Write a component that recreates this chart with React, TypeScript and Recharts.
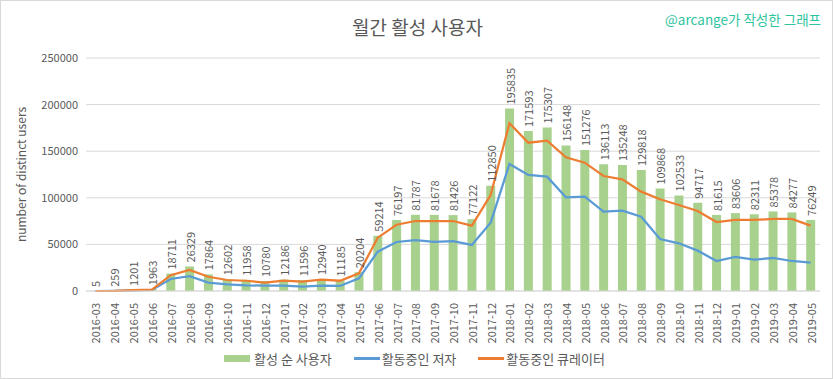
import {
  ComposedChart,
  Bar,
  Line,
  XAxis,
  YAxis,
  CartesianGrid,
  Legend,
  LabelList,
} from 'recharts';

const months = [
  '2016-03', '2016-04', '2016-05', '2016-06', '2016-07', '2016-08', '2016-09', '2016-10',
  '2016-11', '2016-12', '2017-01', '2017-02', '2017-03', '2017-04', '2017-05', '2017-06',
  '2017-07', '2017-08', '2017-09', '2017-10', '2017-11', '2017-12', '2018-01', '2018-02',
  '2018-03', '2018-04', '2018-05', '2018-06', '2018-07', '2018-08', '2018-09', '2018-10',
  '2018-11', '2018-12', '2019-01', '2019-02', '2019-03', '2019-04', '2019-05',
];

const activeUsers = [
  5, 259, 1201, 1963, 18711, 26329, 17864, 12602,
  11958, 10780, 12186, 11596, 12940, 11185, 20204, 59214,
  76197, 81787, 81678, 81426, 77122, 112850, 195835, 171593,
  175307, 156148, 151276, 136113, 135248, 129818, 109868, 102533,
  94717, 81615, 83606, 82311, 85378, 84277, 76249,
];

const activeAuthors = [
  0, 150, 700, 1200, 12900, 16000, 9000, 7200,
  6100, 5700, 5700, 4600, 5700, 5400, 13600, 42200,
  52600, 54700, 52600, 53600, 49400, 73300, 136300, 124500,
  122700, 100500, 101200, 85100, 86200, 79700, 55800, 51200,
  43300, 32200, 36500, 33600, 35400, 32200, 30400,
];

const activeCurators = [
  0, 200, 900, 1500, 17000, 22500, 15300, 11800,
  11000, 9000, 11000, 10000, 12100, 11000, 19000, 57200,
  71100, 75100, 75100, 75100, 70100, 103000, 180000, 159100,
  161300, 143400, 137700, 123400, 119800, 106600, 98400, 92300,
  85800, 74000, 76200, 76200, 77300, 77300, 70100,
];

const yTicks = [0, 50000, 100000, 150000, 200000, 250000];

const data = months.map((m, i) => ({
  month: m,
  users: activeUsers[i],
  authors: activeAuthors[i],
  curators: activeCurators[i],
}));

const TEXT = '#595959';
const FONT = '"Noto Sans CJK KR", "Noto Sans", sans-serif';

const XTick = (props: any) => {
  const { x, y, payload } = props;
  return (
    <text
      x={x}
      y={y + 4}
      transform={`rotate(-90, ${x}, ${y + 4})`}
      textAnchor="end"
      dominantBaseline="central"
      fill={TEXT}
      fontSize={11}
      fontFamily={FONT}
    >
      {payload.value}
    </text>
  );
};

const BarValue = (props: any) => {
  const { x, y, width, value } = props;
  const cx = x + width / 2;
  const ty = y - 4;
  return (
    <text
      x={cx}
      y={ty}
      transform={`rotate(-90, ${cx}, ${ty})`}
      textAnchor="start"
      dominantBaseline="central"
      fill={TEXT}
      fontSize={11}
      fontFamily={FONT}
    >
      {value}
    </text>
  );
};

const LegendContent = () => (
  <div
    style={{
      height: 26,
      display: 'flex',
      justifyContent: 'center',
      alignItems: 'center',
      fontFamily: FONT,
      fontSize: 13,
      color: TEXT,
      paddingLeft: 8,
    }}
  >
    <span style={{ display: 'inline-block', width: 26, height: 7, background: '#a9d18e', marginRight: 4 }} />
    <span style={{ marginRight: 22 }}>활성 순 사용자</span>
    <span style={{ display: 'inline-block', width: 26, height: 3, background: '#5b9bd5', marginRight: 2 }} />
    <span style={{ marginRight: 22 }}>활동중인 저자</span>
    <span style={{ display: 'inline-block', width: 26, height: 3, background: '#ed7d31', marginRight: 2 }} />
    <span>활동중인 큐레이터</span>
  </div>
);

export default function App() {
  return (
    <div
      style={{
        position: 'absolute',
        left: 0,
        top: 0,
        width: 833,
        height: 379,
        boxSizing: 'border-box',
        border: '1px solid #d9d9d9',
        background: '#fff',
        fontFamily: FONT,
      }}
    >
      <div
        style={{
          position: 'absolute',
          top: 12,
          left: 0,
          width: 833,
          textAlign: 'center',
          fontSize: 19,
          color: TEXT,
        }}
      >
        월간 활성 사용자
      </div>
      <div
        style={{
          position: 'absolute',
          top: 8,
          right: 11,
          fontSize: 13.5,
          color: '#2ec4a0',
        }}
      >
        @arcange가 작성한 그래프
      </div>
      <ComposedChart
        width={831}
        height={377}
        data={data}
        margin={{ top: 57, right: 12, left: 0, bottom: 7 }}
        style={{ position: 'absolute', left: 0, top: 0 }}
      >
        <CartesianGrid vertical={false} stroke="#d9d9d9" />
        <XAxis
          dataKey="month"
          interval={0}
          axisLine={{ stroke: '#d9d9d9' }}
          tickLine={false}
          tick={<XTick />}
          height={54}
        />
        <YAxis
          width={85}
          domain={[0, 250000]}
          ticks={yTicks}
          axisLine={false}
          tickLine={false}
          tick={{ fill: TEXT, fontSize: 11, fontFamily: FONT }}
          label={{
            value: 'number of distinct users',
            angle: -90,
            position: 'insideLeft',
            offset: 21,
            style: { fill: TEXT, fontSize: 12, fontFamily: FONT, textAnchor: 'middle' },
          }}
        />
        <Legend verticalAlign="bottom" content={<LegendContent />} />
        <Bar dataKey="users" name="활성 순 사용자" fill="#a9d18e" barSize={9} isAnimationActive={false}>
          <LabelList dataKey="users" content={<BarValue />} />
        </Bar>
        <Line
          type="linear"
          dataKey="authors"
          name="활동중인 저자"
          stroke="#5b9bd5"
          strokeWidth={2.25}
          dot={false}
          isAnimationActive={false}
        />
        <Line
          type="linear"
          dataKey="curators"
          name="활동중인 큐레이터"
          stroke="#ed7d31"
          strokeWidth={2.25}
          dot={false}
          isAnimationActive={false}
        />
      </ComposedChart>
    </div>
  );
}
